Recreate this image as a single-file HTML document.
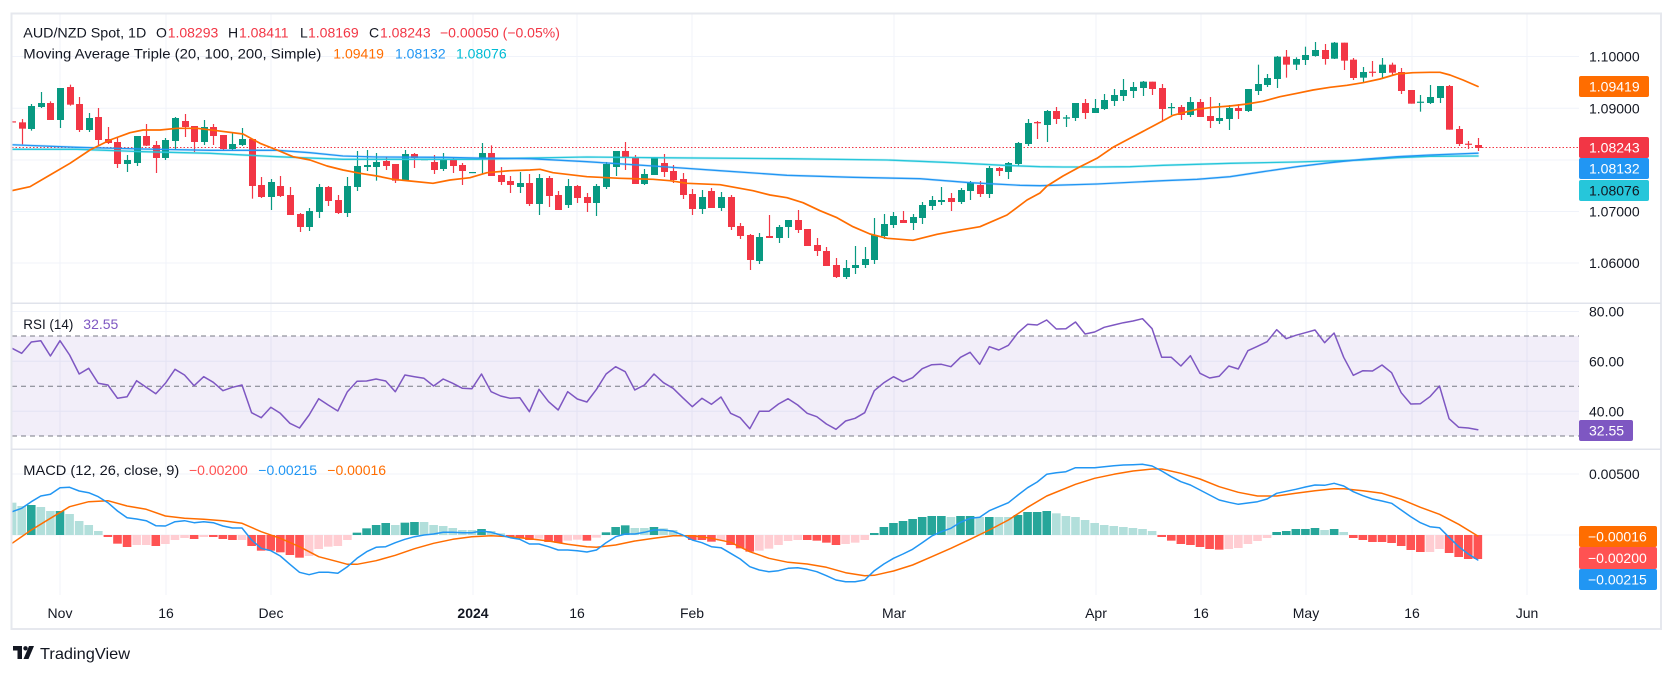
<!DOCTYPE html>
<html><head><meta charset="utf-8">
<style>
html,body{margin:0;padding:0;background:#fff;}
body{width:1674px;height:674px;overflow:hidden;position:relative;font-family:"Liberation Sans",Arial,sans-serif;}
svg{position:absolute;left:0;top:0;}
</style></head><body>
<svg id="c" width="1674" height="674" viewBox="0 0 1674 674" xmlns="http://www.w3.org/2000/svg" font-family="Liberation Sans, Arial, sans-serif">
<defs>
<clipPath id="cm"><rect x="12" y="14" width="1567" height="289"/></clipPath>
<clipPath id="cr"><rect x="12" y="304" width="1567" height="145"/></clipPath>
<clipPath id="cd"><rect x="12" y="450" width="1567" height="145"/></clipPath>
</defs>
<rect x="0" y="0" width="1674" height="674" fill="#fff"/>
<!-- grid -->
<g stroke="#f0f3fa" stroke-width="1">
<line x1="12" x2="1579" y1="56.5" y2="56.5"/>
<line x1="12" x2="1579" y1="108.3" y2="108.3"/>
<line x1="12" x2="1579" y1="160" y2="160"/>
<line x1="12" x2="1579" y1="211.5" y2="211.5"/>
<line x1="12" x2="1579" y1="263" y2="263"/>
<line x1="12" x2="1579" y1="311.5" y2="311.5"/>
<line x1="12" x2="1579" y1="361.3" y2="361.3"/>
<line x1="12" x2="1579" y1="411.3" y2="411.3"/>
<line x1="12" x2="1579" y1="474" y2="474"/>
<line x1="12" x2="1579" y1="535" y2="535"/>
<line x1="60" x2="60" y1="14" y2="595"/>
<line x1="166" x2="166" y1="14" y2="595"/>
<line x1="271" x2="271" y1="14" y2="595"/>
<line x1="473" x2="473" y1="14" y2="595"/>
<line x1="577" x2="577" y1="14" y2="595"/>
<line x1="692" x2="692" y1="14" y2="595"/>
<line x1="894" x2="894" y1="14" y2="595"/>
<line x1="1096" x2="1096" y1="14" y2="595"/>
<line x1="1201" x2="1201" y1="14" y2="595"/>
<line x1="1306" x2="1306" y1="14" y2="595"/>
<line x1="1412" x2="1412" y1="14" y2="595"/>
<line x1="1527" x2="1527" y1="14" y2="595"/>
</g>
<!-- RSI background -->
<rect x="12" y="336" width="1567" height="100" fill="rgba(126,87,194,0.1)"/>
<g stroke="#787b86" stroke-width="1" stroke-dasharray="5,4">
<line x1="12" x2="1579" y1="336" y2="336"/>
<line x1="12" x2="1579" y1="386.3" y2="386.3"/>
<line x1="12" x2="1579" y1="436" y2="436"/>
</g>
<!-- price line -->
<line x1="12" x2="1579" y1="147.5" y2="147.5" stroke="#f23645" stroke-width="1" stroke-dasharray="1.5,2"/>
<g id="main" clip-path="url(#cm)"></g>
<g id="rsi" clip-path="url(#cr)"></g>
<g id="macd" clip-path="url(#cd)"></g>
<!-- frame and separators -->
<rect x="11.5" y="13.5" width="1649.5" height="615.5" fill="none" stroke="#e6e8ee" stroke-width="2"/>
<line x1="11" x2="1661" y1="303.3" y2="303.3" stroke="#e0e3eb" stroke-width="1.5"/>
<line x1="11" x2="1661" y1="449.3" y2="449.3" stroke="#e0e3eb" stroke-width="1.5"/>
<!-- legends -->
<g font-size="14">
<text x="23.3" y="37.7" fill="#131722" textLength="123" lengthAdjust="spacingAndGlyphs">AUD/NZD Spot, 1D</text>
<text x="156" y="37.7" fill="#131722">O</text><text x="167.7" y="37.7" fill="#f23645">1.08293</text>
<text x="228" y="37.7" fill="#131722">H</text><text x="239" y="37.7" fill="#f23645">1.08411</text>
<text x="300" y="37.7" fill="#131722">L</text><text x="308" y="37.7" fill="#f23645">1.08169</text>
<text x="369" y="37.7" fill="#131722">C</text><text x="380" y="37.7" fill="#f23645">1.08243</text>
<text x="440" y="37.7" fill="#f23645">−0.00050 (−0.05%)</text>
<text x="23.3" y="58.3" fill="#131722" textLength="298" lengthAdjust="spacingAndGlyphs">Moving Average Triple (20, 100, 200, Simple)</text>
<text x="333.3" y="58.3" fill="#ff6d00">1.09419</text>
<text x="395" y="58.3" fill="#2196f3">1.08132</text>
<text x="456" y="58.3" fill="#00bcd4">1.08076</text>
<text x="23.3" y="329" fill="#131722" textLength="50" lengthAdjust="spacingAndGlyphs">RSI (14)</text>
<text x="83.3" y="329" fill="#7e57c2">32.55</text>
<text x="23.3" y="475" fill="#131722" textLength="156" lengthAdjust="spacingAndGlyphs">MACD (12, 26, close, 9)</text>
<text x="189" y="475" fill="#ff5252">−0.00200</text>
<text x="258.3" y="475" fill="#2196f3">−0.00215</text>
<text x="327.3" y="475" fill="#ff6d00">−0.00016</text>
</g>
<!-- price axis -->
<g font-size="14" fill="#131722">
<text x="1589" y="61.5">1.10000</text>
<text x="1589" y="113.3">1.09000</text>
<text x="1589" y="216.5">1.07000</text>
<text x="1589" y="268">1.06000</text>
<text x="1589" y="316.5">80.00</text>
<text x="1589" y="366.3">60.00</text>
<text x="1589" y="416.3">40.00</text>
<text x="1589" y="479">0.00500</text>
</g>
<g font-size="14">
<rect x="1579" y="76" width="70" height="21" rx="2" fill="#ff6d00"/><text x="1589" y="91.5" fill="#fff">1.09419</text>
<rect x="1579" y="137" width="70" height="21" rx="2" fill="#f23645"/><text x="1589" y="152.5" fill="#fff">1.08243</text>
<rect x="1579" y="158" width="70" height="21" rx="2" fill="#2196f3"/><text x="1589" y="173.5" fill="#fff">1.08132</text>
<rect x="1579" y="180" width="70" height="21" rx="2" fill="#26c6da"/><text x="1589" y="195.5" fill="#131722">1.08076</text>
<rect x="1579" y="420" width="54" height="21" rx="2" fill="#7e57c2"/><text x="1589" y="435.5" fill="#fff">32.55</text>
<rect x="1579" y="526" width="78" height="21" rx="2" fill="#ff6d00"/><text x="1588" y="541.5" fill="#fff">−0.00016</text>
<rect x="1579" y="547" width="78" height="22" rx="2" fill="#ff5252"/><text x="1588" y="563" fill="#fff">−0.00200</text>
<rect x="1579" y="569" width="78" height="21" rx="2" fill="#2196f3"/><text x="1588" y="584.5" fill="#fff">−0.00215</text>
</g>
<!-- time axis -->
<g font-size="14" fill="#131722" text-anchor="middle">
<text x="60" y="618">Nov</text>
<text x="166" y="618">16</text>
<text x="271" y="618">Dec</text>
<text x="473" y="618" font-weight="bold">2024</text>
<text x="577" y="618">16</text>
<text x="692" y="618">Feb</text>
<text x="894" y="618">Mar</text>
<text x="1096" y="618">Apr</text>
<text x="1201" y="618">16</text>
<text x="1306" y="618">May</text>
<text x="1412" y="618">16</text>
<text x="1527" y="618">Jun</text>
</g>
<!-- footer logo -->
<g fill="#131722">
<path d="M13 646 H22 V659 H17.5 V650.5 H13 Z"/>
<circle cx="25.5" cy="648.3" r="2.2"/>
<path d="M29 646 H34 L28.5 659 H23.5 Z"/>
</g>
<text x="40" y="659" font-size="16" fill="#131722" textLength="90" lengthAdjust="spacingAndGlyphs">TradingView</text>
</svg>
<script>
(function(){
const NS='http://www.w3.org/2000/svg';
const X=i=>60+9.58*i;
function mk(tag,a,p){const e=document.createElementNS(NS,tag);for(const k in a)e.setAttribute(k,a[k]);p.appendChild(e);return e;}
const gM=document.getElementById('main'),gR=document.getElementById('rsi'),gD=document.getElementById('macd');

const CA="r184,187,184,187|r187,206,177,253|g138,207,132,212|g129,141,96,144|r129,180,124,180|g84,180,84,204|r81,134,74,137|r132,210,111,216|g174,210,159,216|r171,240,144,255|r237,249,201,252|r246,312,234,324|g300,312,285,336|g228,309,228,318|r228,257,192,258|r255,294,243,339|g240,294,234,300|g174,243,171,267|r183,201,162,231|r198,246,198,276|g201,246,180,255|r201,228,192,255|r225,267,225,270|g252,267,216,270|g237,255,204,258|r237,378,237,416|r375,411,351,414|g366,411,357,450|r378,408,348,411|r405,465,381,465|r462,501,459,516|g453,501,444,513|g381,456,372,474|r381,423,378,438|r420,459,405,462|g378,459,351,471|g318,381,273,393|g315,321,270,333|g306,321,279,362|r303,318,291,330|r312,362,312,369|g282,362,270,362|r282,294,279,324|g297,299,297,300|r306,330,285,342|g297,327,279,333|r297,318,291,339|r315,333,309,375|g336,338,336,339|g279,293,249,342|r279,348,256,348|r345,366,321,375|r363,375,348,399|g369,381,336,399|r369,432,342,438|g354,432,342,465|r354,408,348,441|r405,450,393,450|g378,435,357,444|r378,414,375,429|r411,429,399,456|g378,429,372,468|g312,381,306,387|g273,321,273,348|r273,294,246,330|r291,372,285,372|g342,372,327,375|g294,345,291,345|r309,336,282,351|r333,360,315,369|r357,405,339,417|r402,447,387,465|g411,447,390,462|r393,444,384,444|g411,444,396,453|r411,501,405,510|r498,528,489,537|r525,600,522,630|g531,603,519,612|r528,534,465,534|g501,534,495,549|g480,501,480,534|r480,510,450,519|r507,558,507,558|r555,573,534,588|r573,618,561,618|r615,651,594,654|g624,651,600,657|g615,624,558,642|g597,615,561,624|g525,600,474,612|g492,528,462,537|g468,495,456,504|r480,489,453,489|g471,489,462,510|g435,474,426,492|g420,438,408,450|g420,426,381,435|r414,426,399,453|g390,426,384,432|g369,393,363,420|r375,402,363,411|g324,402,318,414|r324,333,321,348|g309,336,306,357|g249,312,246,318|g189,252,177,258|r186,190,183,237";
const CB="g243,285,240,336|r243,267,231,282|g262,266,255,291|g219,264,219,273|r219,249,207,267|g234,249,207,249|g210,237,192,240|g195,213,177,228|g180,198,147,213|g171,183,156,204|g155,174,153,198|r155,177,155,195|r174,237,162,271|g231,234,219,255|r231,255,225,270|g216,255,201,261|r216,261,207,261|r258,273,201,294|g264,273,219,282|g234,267,225,300|r234,243,222,267|g177,243,177,246|g162,183,104,195|g144,165,132,171|g80,147,78,174|r80,104,60,143|g87,104,82,120|g75,90,50,105|g60,78,36,80|r60,87,42,104|g38,86,36,87|r38,92,38,120|r89,144,84,150|g126,143,111,156|r125,128,93,140|g104,129,84,143|r104,128,98,137|r126,183,114,192|r180,221,180,221|g215,218,195,245|g201,219,165,222|g168,204,168,219|r168,299,165,299|r297,342,288,348|r341,344,333,357|r345,354,324,363";
function candles(str,start,off){
 str.split('|').forEach((s,k)=>{
  const i=start+k,c=s[0];
  const v=s.slice(1).split(',').map(Number).map(z=>off+z/3);
  const col=c==='g'?'#089981':'#f23645';
  const x=Math.round(X(i))+0.5;
  mk('line',{x1:x,x2:x,y1:v[2],y2:v[3],stroke:col,'stroke-width':1.2},gM);
  const h=Math.max(v[1]-v[0],1.2);
  mk('rect',{x:x-3.5,y:v[0],width:7,height:h,fill:col},gM);
 });
}
candles(CA,-5,60);
candles(CB,103,30);

function poly(pts,col,w,p){mk('polyline',{points:pts.map(q=>q[0].toFixed(1)+','+q[1].toFixed(1)).join(' '),fill:'none',stroke:col,'stroke-width':w,'stroke-linejoin':'round','stroke-linecap':'round'},p);}

const teal=[[10,149.3],[77,149.3],[143,151.7],[210,153.3],[277,156.7],[343,159.3],[410,159.3],[477,159.3],[530,158],[587,157],[653,157.7],[787,158.7],[887,160],[953,162.7],[1003,165.3],[1040,166.7],[1063,167],[1097,167],[1130,166.7],[1163,165.3],[1230,163.3],[1297,162],[1363,160],[1397,157.7],[1430,156.3],[1478,156]];
const blue=[[10,144.7],[77,147.3],[143,149],[210,150.3],[277,150.3],[310,152.7],[343,156],[377,157],[443,157.3],[477,158],[530,158.7],[587,161.7],[653,166],[720,170.7],[787,175.3],[853,177.3],[920,178.7],[970,182.7],[1020,185.3],[1040,185.7],[1097,184],[1163,180.7],[1197,179.3],[1230,176.7],[1263,171.7],[1297,166.7],[1330,162.7],[1363,159.3],[1397,156.7],[1430,155],[1478,153.2]];
const orange=[[10,191],[30,186.7],[50,175],[70,163.3],[90,150],[110,140],[130,132.7],[143,130],[160,130],[177,128.3],[197,128.3],[217,130.7],[243,134],[260,143.3],[277,150],[293,156.7],[310,160],[327,166],[343,170],[360,173.3],[377,176],[393,179.3],[410,181],[433,183.3],[450,180],[470,177.7],[487,172.7],[510,170.7],[530,170],[540,169.3],[553,172.7],[587,176.7],[620,178.3],[653,179.3],[670,180.7],[687,183.3],[720,184.7],[753,190.7],[770,195],[787,197.7],[803,202.7],[820,210.7],[837,217.7],[853,226.7],[870,234],[887,238.3],[913,240.3],[937,234.3],[953,231.3],[980,226.7],[1007,215],[1027,200],[1040,193],[1047,186],[1063,176],[1080,166.7],[1097,158.3],[1113,147.3],[1130,138.3],[1147,129.3],[1163,120.7],[1173,115.3],[1187,111.7],[1197,109.3],[1213,107.3],[1230,106],[1247,104],[1263,101.3],[1280,96.7],[1297,93.3],[1313,90],[1330,87.3],[1347,85.3],[1363,82.7],[1380,79],[1397,74],[1413,72.7],[1430,72.3],[1440,72.3],[1450,75],[1463,80],[1478,86.5]];
poly(teal,'rgba(38,198,218,0.25)',2.6,gM);
poly(teal,'#26c6da',1.3,gM);
poly(blue,'rgba(33,150,243,0.22)',2.6,gM);
poly(blue,'#2196f3',1.3,gM);
poly(orange,'#ff6d00',1.7,gM);

// RSI
const RS=[145,160,126,122,168,122,165,222,205,250,255,295,290,242,262,281,250,208,225,257,230,247,272,262,255,338,353,322,340,370,384,345,296,315,333,275,244,243,237,243,275,225,230,235,258,237,250,265,266,222,275,288,295,293,335,
268,305,330,275,297,306,268,222,200,215,270,255,222,248,265,293,320,295,313,291,340,353,386,334,334,312,296,315,340,350,372,388,363,355,338,272,248,230,245,233,206,194,193,200,172,157,193,140,150,136,98,73,75,60,
87,86,66,102,96,82,75,68,63,56,86,172,172,198,167,220,234,229,198,207,152,139,125,89,116,106,98,90,128,99,172,226,212,213,195,218,278,312,311,290,258,356,382,384,389];
poly(RS.map((z,k)=>[X(k-5),300+z/3]),'#7e57c2',1.5,gR);

// MACD histogram
const H="g608,g618,G615,g621,g633,G633,g642,g663,g675,g693,R711,R731,R741,r735,r735,R738,r732,r720,r714,R717,r711,R711,R717,R720,r720,R738,R752,R752,R757,R765,R773,r768,r747,r740,r738,r720,G698,G685,G675,G669,g675,G668,G666,g666,g675,g678,g684,g690,g690,G687,g693,g700,R711,R714,R720,r716,R726,R728,r722,r719,R722,r713,G697,G681,G676,g684,g684,G681,g685,g690,R708,R720,R720,R725,r722,R735,R745,R755,r752,r746,r735,r723,r720,R720,R722,R728,R735,r732,r728,r720,G699,G681,G669,G663,G657,G651,G648,G648,g651,G648,G648,g651,G651,g651,g651,G645,G636,G636,G633,g640,g648,g651,g660,g669,g675,g678,g681,g684,g687,g693,R711,R722,R732,R735,R741,R747,R749,r747,r744,r732,r723,r714,G696,G693,G687,G687,G684,g690,G687,g696,R714,R720,R726,R726,R729,R738,R750,R756,r756,r747,R759,R771,R777,R777";
const HC={G:'#26a69a',g:'#b2dfdb',R:'#ff5252',r:'#ffcdd2'};
H.split(',').forEach((s,k)=>{
 const i=k-5,y=300+Number(s.slice(1))/3,z=535;
 const top=Math.min(y,z),h=Math.max(Math.abs(y-z),1);
 mk('rect',{x:X(i)-4.3,y:top,width:8.6,height:h,fill:HC[s[0]]},gD);
});
const MB=[635,625,605,588,583,563,562,573,578,590,608,633,653,657,662,677,678,665,662,668,665,668,678,684,684,720,745,752,768,793,817,824,817,817,820,800,775,755,742,740,728,718,710,705,702,697,697,698,698,693,697,705,713,718,732,
732,740,750,750,752,756,750,728,710,702,702,697,690,690,694,705,720,728,740,743,760,777,800,810,815,812,805,803,808,815,827,840,845,845,840,812,792,775,762,748,728,708,695,685,667,655,652,632,620,608,585,563,546,523,
518,515,503,503,503,500,497,495,494,493,498,513,530,545,555,570,585,600,607,613,609,605,597,580,574,568,561,555,556,550,558,575,587,597,603,610,630,650,668,680,683,712,740,762,780];
const SG=[[-5,730],[-3,690],[-1,655],[1,620],[3,605],[5,602],[7,618],[9,628],[11,648],[13,655],[15,658],[17,662],[19,670],[21,695],[23,715],[25,740],[27,770],[29,785],[30,793],[31,793],[33,782],[35,766],[37,746],[39,730],[41,718],[43,710],[45,707],[47,710],[49,716],[51,723],[53,733],[55,740],[56,742],[58,735],[60,723],[62,715],[64,707],[66,707],[68,715],[70,727],[72,755],[74,775],[76,787],[78,792],[80,802],[82,818],[84,827],[85,826],[87,813],[89,795],[91,770],[93,745],[95,718],[97,690],[99,660],[101,622],[103,588],[106,553],[108,535],[110,523],[112,513],[114,507],[115,507],[117,520],[119,537],[121,560],[123,577],[125,588],[127,588],[129,580],[131,572],[133,566],[134,566],[136,572],[138,580],[140,598],[142,622],[144,643],[146,673],[148,708]];
poly(SG.map(p=>[X(p[0]),300+p[1]/3]),'#ff6d00',1.5,gD);
poly(MB.map((z,k)=>[X(k-5),300+z/3]),'#2196f3',1.5,gD);
})();
</script>
</body></html>
